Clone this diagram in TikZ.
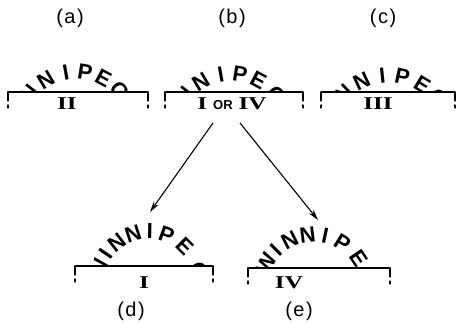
\documentclass[tikz,border=0pt]{standalone}
\usepackage{fontspec}
\usepackage{graphicx}
\setmainfont{Liberation Sans}
\newfontfamily\romfont{Liberation Serif}
\usetikzlibrary{arrows.meta,calc}
\tikzset{
  arcletter/.style={font=\bfseries\fontsize{22}{22}\selectfont, inner sep=0pt, anchor=base},
  winline/.style={line width=1.2pt, line cap=round},
  panellabel/.style={font=\fontsize{20}{20}\selectfont, inner sep=0pt},
  romlabel/.style={font=\romfont\bfseries\fontsize{18}{18}\selectfont, inner sep=0pt},
  arrowline/.style={line width=1.1pt, -{Stealth[length=11pt,width=6pt]}},
}
% #1 name prefix, #2 cx, #3 cy, #4 radius, #5 letters/angles
\newcommand\myarcword[5]{%
  \foreach \ch/\an [count=\i] in {#5} {
    \node[arcletter, rotate=\an-90, name=#1\i] at ({#2+#4*cos(\an)},{#3-#4*sin(\an)}) {\ch};
  }}
% #1 name, #2 x1, #3 x2, #4 y
\newcommand\mywindow[4]{%
  \coordinate (#1L) at (#2,#4);
  \coordinate (#1R) at (#3,#4);
  \draw[winline] (#1L) -- (#1R);
  \draw[winline] (#1L) -- ++(0,9);
  \draw[winline] (#1R) -- ++(0,9);
  \draw[winline] ($(#1L)+(0,13)$) -- ++(0,3);
  \draw[winline] ($(#1R)+(0,13)$) -- ++(0,3);
}
\newcommand\rom[1]{\scalebox{1.4}[1]{#1}}
\newcommand\plab[1]{(\kern1.5pt#1\kern1.5pt)}
\begin{document}
\begin{tikzpicture}[x=1pt,y=-1pt]
\useasboundingbox (0,0) rectangle (456,324);
% panel (a)
\begin{scope}
  \clip (8,10) rectangle (148,91.4);
  \myarcword{wa}{76}{130}{51}{W/178,I/160,N/142,N/121,I/100,P/81,E/62,G/42}
\end{scope}
\mywindow{A}{8}{148}{92}
% panel (b)
\begin{scope}
  \clip (165,10) rectangle (303,91.4);
  \myarcword{wb}{231}{132}{51}{W/178,I/160,N/142,N/121,I/100,P/81,E/62,G/39}
\end{scope}
\mywindow{B}{165}{303}{92}
% panel (c)
\begin{scope}
  \clip (321,10) rectangle (455,91.4);
  \myarcword{wc}{389}{140}{57}{W/170,I/151,N/134,N/115,I/96,P/78,E/59,G/40}
\end{scope}
\mywindow{C}{321}{455}{92}
% panel (d)
\begin{scope}
  \clip (75,180) rectangle (213,265.4);
  \myarcword{wd}{149}{283}{44}{W/165,I/146,N/128,N/108,I/89,P/70,E/45,G/14}
\end{scope}
\mywindow{D}{75}{213}{266}
% panel (e)
\begin{scope}
  \clip (248,180) rectangle (390,267.4);
  \myarcword{we}{314}{288}{46}{W/153,I/135,N/117,N/97,I/78,P/58,E/34,G/8}
\end{scope}
\mywindow{E}{248}{390}{268}
% labels
\node[panellabel] (la) at (70,18) {\plab{a}};
\node[panellabel] (lb) at (232,18) {\plab{b}};
\node[panellabel] (lc) at (383,18) {\plab{c}};
\node[panellabel] (ld) at (131,311) {\plab{d}};
\node[panellabel] (le) at (299,311) {\plab{e}};
\node[romlabel] (ra) at (67,104) {\rom{II}};
\node[inner sep=0pt] (rb) at (232,104) {{\romfont\bfseries\fontsize{18}{18}\selectfont \rom{I}}\hspace{6pt}{\bfseries\fontsize{13}{13}\selectfont OR}\hspace{6pt}{\romfont\bfseries\fontsize{18}{18}\selectfont \rom{IV}}};
\node[romlabel] (rc) at (378,104) {\rom{III}};
\node[romlabel] (rd) at (144,283) {\rom{I}};
\node[romlabel] (re) at (289,283) {\rom{IV}};
% arrows
\coordinate (s1) at (213,123);
\coordinate (t1) at (150,212);
\coordinate (s2) at (240,123);
\coordinate (t2) at (318,220);
\draw[arrowline] (s1) -- (t1);
\draw[arrowline] (s2) -- (t2);
\end{tikzpicture}
\end{document}
